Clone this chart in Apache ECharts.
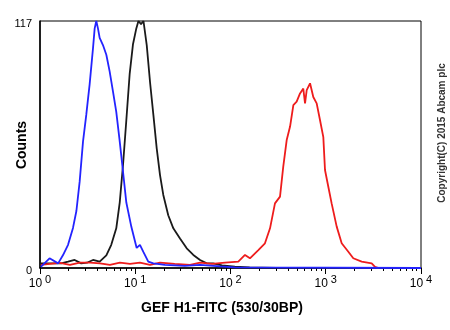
<!DOCTYPE html>
<html>
<head>
<meta charset="utf-8">
<script src="https://cdn.jsdelivr.net/npm/echarts@6/dist/echarts.min.js"></script>
<style>
  html, body { margin: 0; padding: 0; background: #fff; }
  #chart { width: 450px; height: 330px; }
</style>
</head>
<body>
<div id="chart"></div>
<script>
// Flow cytometry histograms: fluorescence (log scale) vs. event counts.

// Unstained cells (blue)
const unstainedFluor = [1.02, 1.26, 1.55, 1.74, 1.97, 2.22, 2.41, 2.61, 2.83, 3.06, 3.19, 3.32, 3.60, 3.75, 3.90, 4.06, 4.23, 4.58, 4.97, 5.39, 5.84, 6.32, 6.87, 7.44, 8.06, 9.10, 10.35, 11.2, 12.2, 13.7, 15.5, 20.5, 33, 47.9, 77.6, 111, 10000];
const unstainedCounts = [0.5, 4.6, 2.2, 6, 11, 19, 27, 41, 60, 72.5, 80, 87, 104, 113.5, 117, 113.5, 109, 105.6, 101, 93, 83.5, 74, 60, 45.6, 31, 19.5, 9.5, 11, 7.5, 3, 2.2, 1.5, 1, 1.5, 0.8, 0.3, 0];

// Isotype control (black)
const isotypeFluor = [1.02, 1.67, 1.97, 2.31, 2.71, 3.11, 3.60, 4.23, 4.97, 5.60, 6.32, 6.87, 7.44, 8.06, 8.74, 9.47, 10.26, 10.8, 11.5, 12.2, 13.2, 14.3, 15.5, 16.8, 18.2, 19.7, 22.2, 25.1, 29.5, 34.7, 40.7, 47.9, 56.3, 65.5, 81.5, 111, 159, 300];
const isotypeCounts = [2.2, 2.2, 3, 3.8, 2.2, 2.5, 3.8, 3, 6, 11, 18.8, 31, 48.8, 70, 92, 106, 113.5, 117, 115.5, 117, 105.6, 88, 72.5, 56.7, 44, 34.6, 25, 18.8, 14, 9.3, 6.2, 3.8, 2.2, 2.2, 1.2, 0.6, 0.3, 0];

// GEF H1-FITC stained (red)
const gefH1Fluor = [1.02, 1.27, 1.62, 2.06, 2.63, 3.35, 4.26, 5.42, 6.9, 8.8, 11.2, 14.3, 18.2, 26, 37.6, 47.9, 63.9, 87.5, 120.8, 142, 160, 196, 230, 260, 293, 331, 358, 389, 422, 457, 495, 537, 581, 606, 631, 684, 740, 803, 871, 943, 982, 1064, 1153, 1303, 1470, 1726, 1946, 2383, 3036, 3289, 3600];
const gefH1Counts = [1.5, 2, 2.4, 1.5, 2.5, 2.5, 2.2, 1.5, 2.5, 2, 2.5, 1.5, 2.5, 2, 1.5, 2.5, 2, 2.5, 3, 6.2, 4.6, 8.5, 11.7, 18.8, 30.6, 33.8, 48, 60.6, 67, 77.2, 78.8, 82.7, 85, 78, 84.3, 87.5, 81, 78, 70, 62, 46.4, 38.5, 30.6, 19.6, 11.7, 7.7, 4.6, 3, 2.2, 0.5, 0];

// Axis ticks
const decadeTicks = [1, 10, 100, 1000, 10000];
const minorTicks = [];
for (let d = 1; d < 10000; d *= 10) {
  for (let k = 2; k <= 9; k++) minorTicks.push(k * d);
}
const countTicks = [0, 117];

const pairs = (xs, ys) => xs.map((x, i) => [x, ys[i]]);

const chart = echarts.init(document.getElementById('chart'), null, { renderer: 'canvas' });
const font = 'Arial, "Liberation Sans", sans-serif';

chart.setOption({
  animation: false,
  backgroundColor: '#fff',
  grid: {
    left: 40, right: 29, top: 21, bottom: 62,
    show: true, borderColor: '#000', borderWidth: 1, backgroundColor: 'transparent'
  },
  xAxis: [
    {
      type: 'log', logBase: 10, min: 1, max: 10000,
      axisLine: { show: true, lineStyle: { color: '#000', width: 1.5 } },
      axisTick: { show: true, inside: false, length: 6, customValues: decadeTicks, lineStyle: { color: '#000', width: 1 } },
      splitLine: { show: false },
      axisLabel: {
        show: true, margin: 6, customValues: decadeTicks,
        formatter: v => '{b|10}{s|' + Math.round(Math.log10(v)) + '}',
        rich: {
          b: { fontFamily: font, fontSize: 12, color: '#000', verticalAlign: 'bottom' },
          s: { fontFamily: font, fontSize: 11, color: '#000', padding: [0, 0, 5, 3], verticalAlign: 'bottom' }
        }
      }
    },
    {
      type: 'log', logBase: 10, min: 1, max: 10000, position: 'bottom',
      axisLine: { show: false },
      axisTick: { show: true, inside: false, length: 3, customValues: minorTicks, lineStyle: { color: '#000', width: 1 } },
      axisLabel: { show: false },
      splitLine: { show: false }
    }
  ],
  yAxis: {
    type: 'value', min: 0, max: 117, interval: 117,
    axisLine: { show: true, lineStyle: { color: '#000', width: 1.5 } },
    axisTick: { show: false },
    splitLine: { show: false },
    axisLabel: {
      show: true, margin: 8, customValues: countTicks,
      formatter: v => '{n|' + v + '}',
      rich: {
        n: { fontFamily: font, fontSize: 11, color: '#000', padding: [6, 0, 0, 0] }
      }
    }
  },
  series: [
    {
      name: 'Isotype control', type: 'line', xAxisIndex: 0, data: pairs(isotypeFluor, isotypeCounts),
      symbol: 'none', clip: false, lineStyle: { color: '#1a1a1a', width: 1.8 }, z: 2
    },
    {
      name: 'GEF H1-FITC', type: 'line', xAxisIndex: 0, data: pairs(gefH1Fluor, gefH1Counts),
      symbol: 'none', clip: false, lineStyle: { color: '#ee1c1c', width: 1.8 }, z: 3
    },
    {
      name: 'Unstained', type: 'line', xAxisIndex: 0, data: pairs(unstainedFluor, unstainedCounts),
      symbol: 'none', clip: false, lineStyle: { color: '#2323ff', width: 1.8 }, z: 4
    }
  ],
  graphic: [
    {
      type: 'text', x: 22, y: 145, rotation: Math.PI / 2,
      style: { text: 'Counts', font: 'bold 14px ' + font, fill: '#000', align: 'center', verticalAlign: 'middle' }
    },
    {
      type: 'text', x: 222, y: 308,
      style: { text: 'GEF H1-FITC (530/30BP)', font: 'bold 14px ' + font, fill: '#000', align: 'center', verticalAlign: 'middle' }
    },
    {
      type: 'text', x: 442, y: 133, rotation: Math.PI / 2,
      style: { text: 'Copyright(C) 2015 Abcam plc', font: 'bold 10px ' + font, fill: '#333', align: 'center', verticalAlign: 'middle' }
    }
  ]
});
</script>
</body>
</html>
